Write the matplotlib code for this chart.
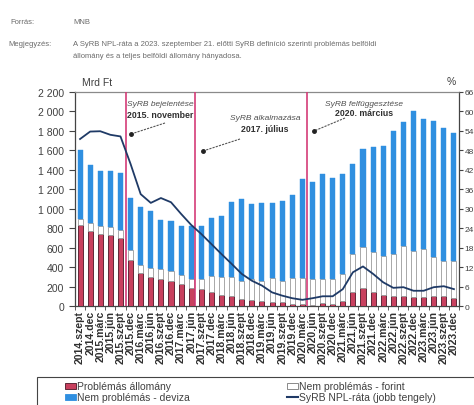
import matplotlib
matplotlib.use("Agg")
import matplotlib.pyplot as plt
from matplotlib.patches import Rectangle
from matplotlib.lines import Line2D
import numpy as np

plt.rcParams['font.family'] = ['Liberation Sans', 'DejaVu Sans']

categories = [
    "2014.szept", "2014.dec", "2015.márc", "2015.jún", "2015.szept", "2015.dec",
    "2016.márc", "2016.jún", "2016.szept", "2016.dec", "2017.márc", "2017.jún",
    "2017.szept", "2017.dec", "2018.márc", "2018.jún", "2018.szept", "2018.dec",
    "2019.márc", "2019.jún", "2019.szept", "2019.dec", "2020.márc", "2020.jún",
    "2020.szept", "2020.dec", "2021.márc", "2021.jún", "2021.szept", "2021.dec",
    "2022.márc", "2022.jún", "2022.szept", "2022.dec", "2023.márc", "2023.jún",
    "2023.szept", "2023.dec",
]

# Mrd Ft
problemas = [830, 775, 740, 730, 695, 475, 335, 295, 280, 260, 225, 190, 175,
             140, 115, 105, 70, 60, 50, 40, 40, 20, 20, 12, 30, 20, 55, 140,
             190, 145, 115, 100, 100, 90, 90, 100, 100, 80]
nem_problemas_forint = [65, 75, 85, 85, 90, 100, 85, 95, 105, 100, 90, 90, 100,
                        170, 180, 190, 190, 215, 210, 245, 220, 265, 265, 265,
                        250, 255, 275, 395, 415, 410, 400, 435, 520, 480, 495,
                        405, 365, 380]
nem_problemas_deviza = [705, 595, 560, 575, 580, 540, 600, 590, 500, 510, 505,
                        540, 550, 590, 635, 770, 840, 770, 800, 775, 815, 855,
                        1020, 1000, 1080, 1045, 1030, 925, 1010, 1075, 1130,
                        1265, 1270, 1430, 1335, 1400, 1370, 1320]
# %
npl_rata = [51.5, 53.8, 53.9, 52.8, 52.3, 43.8, 34.5, 31.8, 33.3, 32.0, 28.4,
            25.0, 22.2, 19.1, 16.0, 13.0, 9.9, 7.8, 6.3, 4.2, 3.2, 2.4, 1.9,
            2.4, 3.0, 3.0, 5.2, 10.4, 12.2, 9.9, 7.3, 5.6, 5.8, 4.7, 4.7, 5.8,
            6.1, 5.2]

left_ticks = [0, 200, 400, 600, 800, 1000, 1200, 1400, 1600, 1800, 2000, 2200]
left_labels = ["0", "200", "400", "600", "800", "1 000", "1 200", "1 400",
               "1 600", "1 800", "2 000", "2 200"]
right_ticks = [0, 6, 12, 18, 24, 30, 36, 42, 48, 54, 60, 66]

events = [
    (4.55, "SyRB bejelentése", "2015. november"),
    (11.35, "SyRB alkalmazása", "2017. július"),
    (22.45, "SyRB felfüggesztése", "2020. március"),
]

W, H = 474, 406
fig = plt.figure(figsize=(W / 100, H / 100), dpi=100)


def fx(px):
    return px / W


def fy(py):
    return 1 - py / H


GRAY = "#6b6b6b"
TXT = "#404040"
RED = "#c8405e"
BLUE = "#2f8fe0"
NAVY = "#1f3a66"
VLINE = "#d43c78"

# header
fig.text(fx(10), fy(22), "Forrás:", fontsize=5.5, color=GRAY, va="center")
fig.text(fx(73), fy(22), "MNB", fontsize=5.5, color=GRAY, va="center")
fig.text(fx(8), fy(45), "Megjegyzés:", fontsize=5.5, color=GRAY, va="center")
fig.text(fx(73), fy(45),
         "A SyRB NPL-ráta a 2023. szeptember 21. előtti SyRB definíció szerinti problémás belföldi",
         fontsize=5.5, color=GRAY, va="center")
fig.text(fx(73), fy(56), "állomány és a teljes belföldi állomány hányadosa.",
         fontsize=5.5, color=GRAY, va="center")

ax = fig.add_axes([fx(75), fy(307), fx(459) - fx(75), fy(93) - fy(307)])
x = np.arange(len(categories))
bw = 0.5

prob = np.array(problemas)
forint = np.array(nem_problemas_forint)
deviza = np.array(nem_problemas_deviza)

ax.bar(x, prob, width=bw, color=RED, edgecolor="#4a1525", linewidth=0.6, zorder=3)
ax.bar(x, forint, width=bw, bottom=prob, color="white", edgecolor="#9a9a9a",
       linewidth=0.6, zorder=3)
ax.bar(x, deviza, width=bw, bottom=prob + forint, color=BLUE, edgecolor=BLUE,
       linewidth=0.3, zorder=3)

ax.set_xlim(-0.5, len(categories) - 0.5)
ax.set_ylim(0, 2200)
ax.set_yticks(left_ticks)
ax.set_yticklabels(left_labels)
ax.set_xticks(x)
ax.set_xticklabels(categories, rotation=90, fontsize=7.6, fontweight="bold",
                   color="#303030")
ax.set_xticks(np.arange(-0.5, len(categories), 1), minor=True)
ax.tick_params(axis="x", which="major", length=0, pad=3)
ax.tick_params(axis="x", which="minor", length=3, color="#444444")
ax.tick_params(axis="y", labelsize=7.5, labelcolor=TXT, length=4, color="#444444",
               pad=4)
for s in ["left", "bottom", "right"]:
    ax.spines[s].set_color("#444444")
    ax.spines[s].set_linewidth(0.9)
ax.spines["top"].set_color("#8a8a8a")
ax.spines["top"].set_linewidth(0.9)

for xv, l1, l2 in events:
    ax.axvline(xv, color=VLINE, linewidth=1.2, zorder=4)

ax2 = ax.twinx()
ax2.set_ylim(0, 66)
ax2.set_yticks(right_ticks)
ax2.tick_params(axis="y", labelsize=6, labelcolor=TXT, length=3, color="#444444",
                pad=1)
for s in ax2.spines.values():
    s.set_visible(False)
ax2.plot(x, npl_rata, color=NAVY, linewidth=1.3, zorder=5)

# event annotations
ann = [
    (160, 104, 116, (165, 124), (131, 135)),
    (265, 118, 129, (240, 140), (203, 152)),
    (364, 105, 114, (345, 119), (314, 132)),
]
for (xv, l1, l2), (cx, y1, y2, p0, p1) in zip(events, ann):
    fig.text(fx(cx), fy(y1), l1, fontsize=6, style="italic", color="#505050",
             ha="center", va="center")
    fig.text(fx(cx), fy(y2), l2, fontsize=6.3, fontweight="bold", color="#303030",
             ha="center", va="center")
    fig.add_artist(Line2D([fx(p0[0]), fx(p1[0])], [fy(p0[1]), fy(p1[1])],
                          color="#555555", linewidth=0.8, linestyle=(0, (2, 1))))
    fig.add_artist(Line2D([fx(p1[0])], [fy(p1[1])], marker="o", markersize=2.5,
                          color="#222222", linestyle="none"))

fig.text(fx(82), fy(83), "Mrd Ft", fontsize=7.5, color=TXT, va="center")
fig.text(fx(447), fy(82), "%", fontsize=7.5, color=TXT, va="center")

# legend
fig.add_artist(Rectangle((fx(37), fy(420)), fx(520) - fx(37), fy(378) - fy(420),
                         transform=fig.transFigure, facecolor="white",
                         edgecolor="#444444", linewidth=0.8))
entries = [
    (65, 387, "patch", RED, "#4a1525", "Problémás állomány"),
    (65, 398, "patch", BLUE, BLUE, "Nem problémás - deviza"),
    (287, 387, "patch", "white", "#777777", "Nem problémás - forint"),
    (287, 398, "line", NAVY, NAVY, "SyRB NPL-ráta (jobb tengely)"),
]
for lx, ly, kind, fc, ec, label in entries:
    if kind == "patch":
        fig.add_artist(Rectangle((fx(lx), fy(ly + 3)), fx(11), fy(0) - fy(6),
                                 transform=fig.transFigure, facecolor=fc,
                                 edgecolor=ec, linewidth=0.6))
    else:
        fig.add_artist(Line2D([fx(lx), fx(lx + 11)], [fy(ly), fy(ly)],
                              color=fc, linewidth=1.5))
    fig.text(fx(lx + 12), fy(ly), label, fontsize=7.5, color=TXT, va="center")

fig.savefig("out.png", dpi=100)
